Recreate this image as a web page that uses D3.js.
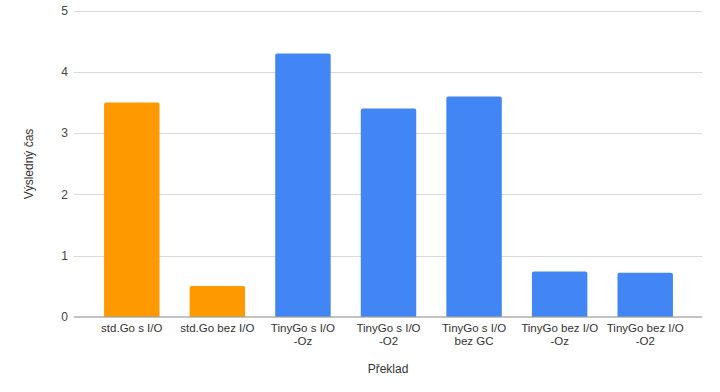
<!DOCTYPE html>
<html>
<head>
<meta charset="UTF-8">
<title></title>
<style>
  body { margin: 0; background: #fff; }
  text { font-family: "Liberation Sans", Arial, sans-serif; fill: #222; }
</style>
</head>
<body>
<svg width="720" height="392"></svg>
<script src="https://cdn.jsdelivr.net/npm/d3@7"></script>
<script>
// data
var categories = ["std.Go s I/O", "std.Go bez I/O", "TinyGo s I/O\n-Oz", "TinyGo s I/O\n-O2",
                  "TinyGo s I/O\nbez GC", "TinyGo bez I/O\n-Oz", "TinyGo bez I/O\n-O2"];
var values = [3.5, 0.5, 4.3, 3.4, 3.6, 0.74, 0.72];
var groups = ["std", "std", "tiny", "tiny", "tiny", "tiny", "tiny"];
var yTicks = [0, 1, 2, 3, 4, 5];

var colors = { std: "#ff9900", tiny: "#4285f4" };

var svg = d3.select("svg");
var x = d3.scaleBand().domain(categories).range([89, 688]).paddingInner(0.352).paddingOuter(0.176);
var y = d3.scaleLinear().domain([0, 5]).range([316.7, 10.7]);

// grid
var grid = svg.append("g");
grid.selectAll("line").data(yTicks.filter(function(d){ return d > 0; })).enter().append("line")
  .attr("x1", 74).attr("x2", 702)
  .attr("y1", function(d){ return Math.round(y(d)) + 0.5; })
  .attr("y2", function(d){ return Math.round(y(d)) + 0.5; })
  .attr("stroke", "#d9d9d9").attr("stroke-width", 1);

// y labels
svg.append("g").selectAll("text").data(yTicks).enter().append("text")
  .attr("x", 68).attr("y", function(d){ return y(d); })
  .attr("dy", "0.35em").attr("text-anchor", "end")
  .attr("font-size", 12).style("fill", "#444")
  .text(function(d){ return d; });

// bars, top corners slightly rounded
var r = 2;
svg.append("g").selectAll("path").data(values).enter().append("path")
  .attr("fill", function(d, i){ return colors[groups[i]]; })
  .attr("d", function(d, i){
    var x0 = x(categories[i]), w = x.bandwidth(), y0 = y(d), yb = y(0);
    return "M" + x0 + "," + yb + "V" + (y0 + r) + "Q" + x0 + "," + y0 + " " + (x0 + r) + "," + y0 +
           "H" + (x0 + w - r) + "Q" + (x0 + w) + "," + y0 + " " + (x0 + w) + "," + (y0 + r) + "V" + yb + "Z";
  });

// baseline
svg.append("line").attr("x1", 74).attr("x2", 702)
  .attr("y1", 317).attr("y2", 317)
  .attr("stroke", "#888").attr("stroke-width", 1.2);

// x labels, one text per line
var xl = svg.append("g");
categories.forEach(function(d){
  var cx = x(d) + x.bandwidth() / 2;
  d.split("\n").forEach(function(line, k){
    xl.append("text").attr("x", cx).attr("y", 331.5 + k * 13)
      .attr("text-anchor", "middle").attr("font-size", 11.5).style("fill", "#333")
      .text(line);
  });
});

// axis titles
svg.append("text").attr("x", 388).attr("y", 373).attr("text-anchor", "middle")
  .attr("font-size", 12).style("fill", "#333").text("Překlad");
svg.append("text").attr("transform", "translate(33,164) rotate(-90)")
  .attr("text-anchor", "middle").attr("font-size", 12).style("fill", "#333").text("Výsledný čas");
</script>
</body>
</html>
